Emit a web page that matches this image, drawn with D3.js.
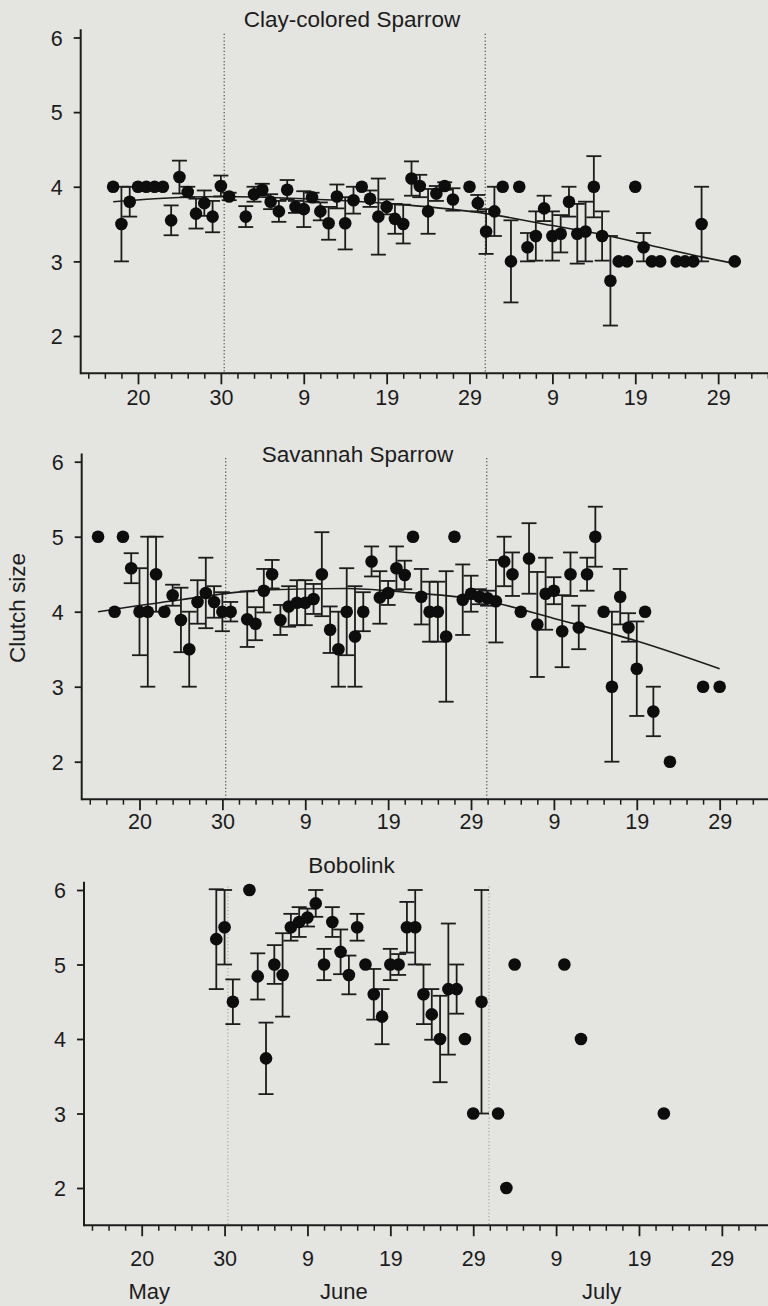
<!DOCTYPE html>
<html><head><meta charset="utf-8">
<script src="https://cdn.jsdelivr.net/npm/d3@7"></script>
<style>
html,body{margin:0;padding:0;background:#e4e4e0;}
svg{display:block;}
text{font-family:"Liberation Sans", Arial, Helvetica, sans-serif; fill:#1c1c1c;}
</style></head><body>
<svg id="chart" width="768" height="1306"></svg>
<script>
// ---------- DATA (days counted from May 0: 20 = 20 May, 40 = 9 June, 70 = 9 July) ----------
const clayDays  = [17,18,19,20,21,22,23,24,25,26, 27,28,29,30,31,33,34,35,36,37, 38,39,40,41,42,43,44,45,46,47,
                   48,49,50,51,52,53,54,55,56,57, 58,60,61,62,63,64,65,66,67,68, 69,70,71,72,73,74,75,76,77,78,
                   79,80,81,82,83,85,86,87,88,92];
const clayMeans = [4.00,3.50,3.80,4.00,4.00,4.00,4.00,3.55,4.13,3.93, 3.64,3.78,3.60,4.01,3.87,3.60,3.90,3.96,3.80,3.67,
                   3.96,3.73,3.70,3.86,3.67,3.51,3.87,3.51,3.82,4.00, 3.84,3.60,3.73,3.57,3.50,4.11,4.01,3.67,3.91,4.01,
                   3.83,4.00,3.78,3.40,3.67,4.00,3.00,4.00,3.19,3.34, 3.71,3.34,3.37,3.80,3.37,3.40,4.00,3.34,2.74,3.00,
                   3.00,4.00,3.19,3.00,3.00,3.00,3.00,3.00,3.50,3.00];
const claySE    = [0,0.50,0.20,0,0,0,0,0.20,0.22,0.07, 0.20,0.17,0.21,0.14,0.05,0.14,0.10,0.08,0.10,0.14,
                   0.13,0.08,0.24,0.06,0.12,0.22,0.16,0.35,0.18,0, 0.11,0.51,0.10,0.20,0.26,0.23,0.15,0.30,0.10,0.05,
                   0.15,0,0.11,0.30,0.33,0,0.55,0,0.19,0.33, 0.17,0.33,0.25,0.20,0.40,0.40,0.41,0.33,0.60,0,
                   0,0,0.19,0,0,0,0,0,0.50,0];
const clayFitDays   = [17,22,30,40,52,62,70,76,82,88,92];
const clayFitValues = [3.80,3.84,3.87,3.84,3.76,3.64,3.48,3.36,3.21,3.06,2.97];

const savDays  = [15,17,18,19,20,21,22,23,24,25, 26,27,28,29,30,31,33,34,35,36, 37,38,39,40,41,42,43,44,45,46,
                  47,48,49,50,51,52,53,54,55,56, 57,58,59,60,61,62,63,64,65,66, 67,68,69,70,71,72,73,74,75,76,
                  77,78,79,80,81,82,84,88,90];
const savMeans = [5,4,5,4.58,4,4,4.5,4,4.22,3.89, 3.5,4.13,4.25,4.13,4,4,3.9,3.84,4.28,4.5,
                  3.89,4.07,4.12,4.12,4.17,4.5,3.76,3.5,4,3.67, 4,4.67,4.19,4.25,4.58,4.49,5,4.2,4,4,
                  3.67,5,4.16,4.24,4.2,4.18,4.14,4.67,4.5,4, 4.71,3.83,4.24,4.28,3.74,4.5,3.79,4.5,5,4,
                  3,4.2,3.79,3.24,4,2.67,2,3,3];
const savSE    = [0,0,0,0.2,0.58,1,0.5,0,0.14,0.43, 0.5,0.29,0.47,0.21,0.26,0.13,0.37,0.22,0.29,0.19,
                  0.2,0.27,0.3,0.3,0.2,0.56,0.31,0.5,0.58,0.67, 0.26,0.2,0.35,0.16,0.29,0.19,0,0.37,0.4,0.4,
                  0.87,0,0.47,0.24,0.1,0.1,0.55,0.33,0.29,0, 0.47,0.7,0.48,0.18,0.48,0.29,0.29,0.22,0.4,0,
                  1,0.37,0.19,0.63,0,0.33,0,0,0];
const savFitDays   = [15,25,35,45,52,62,70,80,90];
const savFitValues = [4.00,4.16,4.29,4.31,4.26,4.14,3.91,3.61,3.24];

const bobDays  = [29,30,31,33,34,35,36,37,38,39, 40,41,42,43,44,45,46,47,48,49,
                  50,51,52,53,54,55,56,57,58,59, 60,61,63,64,65,71,73,83];
const bobMeans = [5.34,5.5,4.5,6,4.84,3.74,5,4.86,5.5,5.57, 5.63,5.82,5,5.57,5.17,4.86,5.5,5,4.6,4.3,
                  5,5,5.5,5.5,4.6,4.33,4,4.67,4.67,4, 3,4.5,3,2,5,5,4,3];
const bobSE    = [0.67,0.5,0.3,0,0.31,0.48,0.26,0.56,0.18,0.2, 0.12,0.18,0.21,0.2,0.3,0.26,0.18,0,0.34,0.37,
                  0.21,0.14,0.34,0.5,0.4,0.34,0.58,0.88,0.33,0, 0,1.5,0,0,0,0,0,0];

const speciesNames   = ["Clay-colored Sparrow","Savannah Sparrow","Bobolink"];
const xTickValues    = [20,30,40,50,60,70,80,90];
const xTickLabels    = ["20","30","9","19","29","9","19","29"];
const xMinorTicks    = d3.range(14, 97, 2);
const yTickValues    = [2,3,4,5,6];
const monthNames     = ["May","June","July"];
const monthCenters   = [20.9,44.4,75.5];
const monthBoundaries= [30.4,61.9];
const yAxisTitle     = "Clutch size";

// ---------- LAYOUT ----------
const W = 768, PX_PER_DAY = 8.288;
const layouts = [
  {axisX:80.7, x20:138.0, y6:37.5,  y2:336.0,  titleX:352,   titleY:26.5,  labelOff:31.5, dotColor:"#4a4a4a"},
  {axisX:81.7, x20:139.5, y6:461.7, y2:761.7,  titleX:357.5, titleY:461.5, labelOff:29.5, dotColor:"#4a4a4a"},
  {axisX:84.0, x20:141.7, y6:890.0, y2:1188.0, titleX:351.5, titleY:873,   labelOff:41,   dotColor:"#a8a8a8"}
];
const panels = [
  {name:speciesNames[0], days:clayDays, means:clayMeans, se:claySE, fitDays:clayFitDays, fitValues:clayFitValues},
  {name:speciesNames[1], days:savDays,  means:savMeans,  se:savSE,  fitDays:savFitDays,  fitValues:savFitValues},
  {name:speciesNames[2], days:bobDays,  means:bobMeans,  se:bobSE,  fitDays:null,        fitValues:null}
];

const svg = d3.select("#chart");
const INK = "#1c1c1c";

panels.forEach((p, i) => {
  const L = layouts[i];
  const x = d3.scaleLinear().domain([20, 90]).range([L.x20, L.x20 + 70 * PX_PER_DAY]);
  const y = d3.scaleLinear().domain([2, 6]).range([L.y2, L.y6]);
  const axisY = y(1.5);
  const g = svg.append("g");

  // month boundary dotted lines
  g.selectAll(".bound").data(monthBoundaries).join("line")
    .attr("x1", d => x(d)).attr("x2", d => x(d))
    .attr("y1", y(6.05)).attr("y2", axisY)
    .attr("stroke", L.dotColor).attr("stroke-width", 1.2)
    .attr("stroke-dasharray", "1.2,2.2");

  // x axis: minor ticks
  const minor = g.append("g").attr("transform", `translate(0,${axisY})`)
    .call(d3.axisBottom(x).tickValues(xMinorTicks.filter(v => !xTickValues.includes(v)))
      .tickSize(5.5).tickFormat(""));
  minor.select(".domain").remove();
  minor.selectAll("line").attr("stroke", INK).attr("stroke-width", 1.5);

  // x axis: major ticks + labels
  const major = g.append("g").attr("transform", `translate(0,${axisY})`)
    .call(d3.axisBottom(x).tickValues(xTickValues).tickSize(11)
      .tickFormat((d, k) => xTickLabels[k]));
  major.select(".domain").remove();
  major.selectAll("line").attr("stroke", INK).attr("stroke-width", 1.8);
  major.selectAll("text").attr("y", L.labelOff).attr("dy", null)
    .style("font-size", "21.5px").attr("fill", INK);

  // y axis
  const ya = g.append("g").attr("transform", `translate(${L.axisX},0)`)
    .call(d3.axisLeft(y).tickValues(yTickValues).tickSize(7).tickPadding(11).tickFormat(d3.format("d")));
  ya.select(".domain").remove();
  ya.selectAll("line").attr("stroke", INK).attr("stroke-width", 1.8);
  ya.selectAll("text").style("font-size", "21.5px").attr("fill", INK).attr("dy", "0.36em");

  // axis lines
  g.append("line").attr("x1", L.axisX).attr("x2", W).attr("y1", axisY).attr("y2", axisY)
    .attr("stroke", INK).attr("stroke-width", 2);
  g.append("line").attr("x1", L.axisX).attr("x2", L.axisX).attr("y1", y(6.11)).attr("y2", axisY + 1)
    .attr("stroke", INK).attr("stroke-width", 2);

  // title
  g.append("text").attr("x", L.titleX).attr("y", L.titleY).attr("text-anchor", "middle")
    .style("font-size", "22.5px").text(p.name);

  const pts = p.days.map((d, k) => ({day: d, m: p.means[k], se: p.se[k]}));
  const eb = pts.filter(d => d.se > 0);
  const cap = 7.5;

  // error bars
  const ebG = g.append("g").attr("stroke", INK).attr("stroke-width", 1.8).attr("fill", "none");
  ebG.selectAll(".v").data(eb).join("line")
    .attr("x1", d => x(d.day)).attr("x2", d => x(d.day))
    .attr("y1", d => y(d.m + d.se)).attr("y2", d => y(d.m - d.se));
  ebG.selectAll(".t").data(eb).join("line")
    .attr("x1", d => x(d.day) - cap).attr("x2", d => x(d.day) + cap)
    .attr("y1", d => y(d.m + d.se)).attr("y2", d => y(d.m + d.se));
  ebG.selectAll(".b").data(eb).join("line")
    .attr("x1", d => x(d.day) - cap).attr("x2", d => x(d.day) + cap)
    .attr("y1", d => y(d.m - d.se)).attr("y2", d => y(d.m - d.se));

  // fitted curve
  if (p.fitDays) {
    const fit = p.fitDays.map((d, k) => [d, p.fitValues[k]]);
    g.append("path").datum(fit)
      .attr("d", d3.line().x(d => x(d[0])).y(d => y(d[1])).curve(d3.curveMonotoneX))
      .attr("fill", "none").attr("stroke", INK).attr("stroke-width", 1.6);
  }

  // dots
  g.selectAll(".dot").data(pts).join("circle")
    .attr("cx", d => x(d.day)).attr("cy", d => y(d.m)).attr("r", 6.3)
    .attr("fill", "#0d0d0d");

  // month labels under the bottom panel
  if (i === 2) {
    g.selectAll(".month").data(monthNames).join("text")
      .attr("x", (d, k) => x(monthCenters[k])).attr("y", 1299)
      .attr("text-anchor", "middle").style("font-size", "22px").text(d => d);
  }
});

// shared y-axis title
svg.append("text").attr("transform", "translate(25,608) rotate(-90)")
  .attr("text-anchor", "middle").style("font-size", "22.5px").text(yAxisTitle);
</script>
</body></html>
